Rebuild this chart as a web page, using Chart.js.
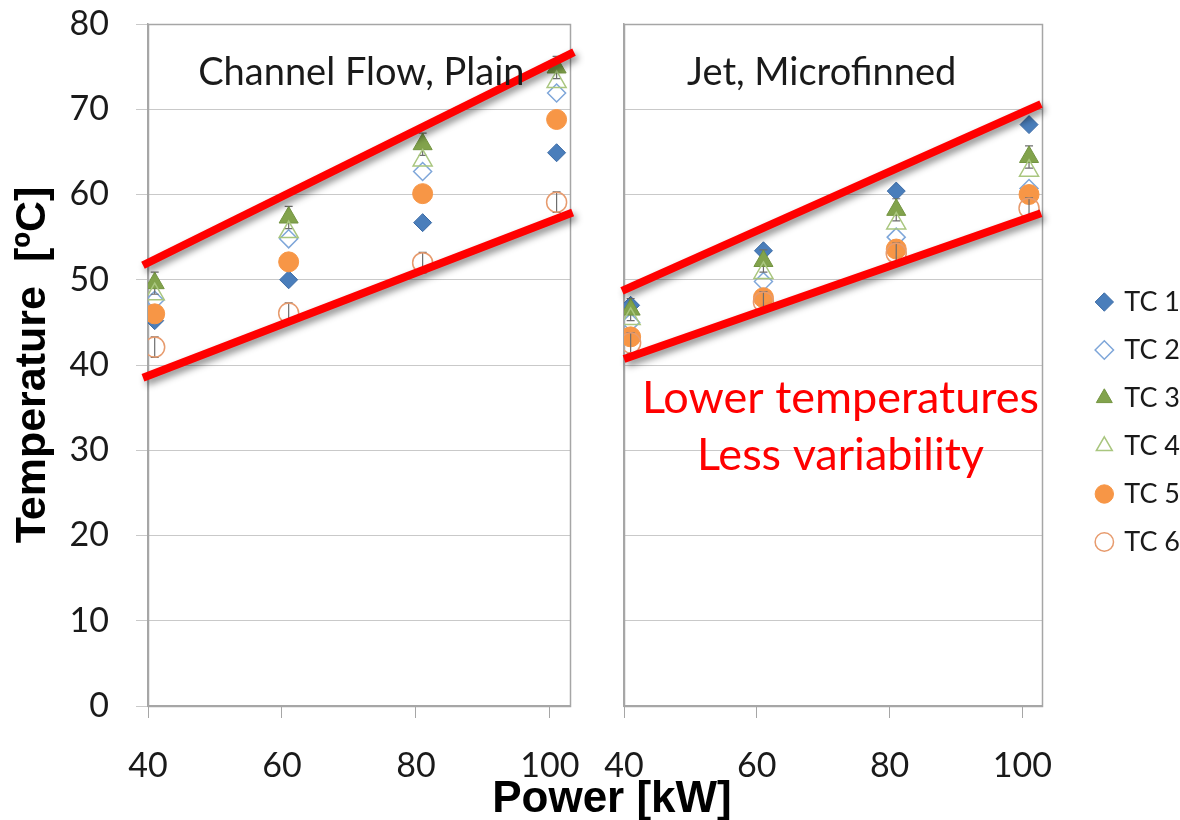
<!DOCTYPE html>
<html>
<head>
<meta charset="utf-8">
<script src="https://cdn.jsdelivr.net/npm/chart.js@4.4.1/dist/chart.umd.min.js"></script>
<style>
html,body{margin:0;padding:0;background:#fff;overflow:hidden;width:1180px;height:820px;}
#wrapL{position:absolute;left:0;top:0;width:585px;height:820px;}
#wrapR{position:absolute;left:458px;top:0;width:732px;height:820px;}
#xtitle{position:absolute;left:412px;top:772px;width:400px;text-align:center;line-height:44px;
  font:bold 44px "Liberation Sans",Arial,sans-serif;color:#000;}
</style>
</head>
<body>
<div id="wrapL"><canvas id="cL"></canvas></div>
<div id="wrapR"><canvas id="cR"></canvas></div>
<div id="xtitle">Power [kW]</div>
<script>
// ---------- data ----------
const powerKW = [41, 61, 81, 101];
const seriesNames = ['TC 1', 'TC 2', 'TC 3', 'TC 4', 'TC 5', 'TC 6'];

// Channel Flow, Plain
const plainTC1 = [45.2, 50.0, 56.7, 64.9];
const plainTC2 = [47.6, 54.8, 62.7, 71.9];
const plainTC3 = [49.6, 57.3, 65.9, 74.9];
const plainTC4 = [48.3, 55.6, 64.0, 73.2];
const plainTC5 = [46.0, 52.1, 60.1, 68.8];
const plainTC6 = [42.1, 46.1, 52.0, 59.1];
const plainErrTC3 = [1.3, 1.3, 1.3, 1.3];
const plainErrTC6 = [1.2, 1.2, 1.2, 1.2];

// Jet, Microfinned
const jetTC1 = [47.0, 53.4, 60.4, 68.2];
const jetTC2 = [45.0, 49.8, 55.0, 60.7];
const jetTC3 = [46.5, 52.2, 58.2, 64.4];
const jetTC4 = [45.4, 50.8, 56.6, 62.8];
const jetTC5 = [43.3, 47.9, 53.6, 60.0];
const jetTC6 = [42.6, 47.4, 53.1, 58.4];
const jetErrTC3 = [1.3, 1.3, 1.3, 1.3];
const jetErrTC6 = [1.2, 1.2, 1.2, 1.2];

// red band annotation lines (data units)
const plainUpperX = [39.25, 103.6], plainUpperY = [51.7, 76.7];
const plainLowerX = [39.25, 103.4], plainLowerY = [38.5, 57.9];
const jetUpperX = [39.7, 102.8], jetUpperY = [48.7, 70.6];
const jetLowerX = [40.0, 102.8], jetLowerY = [40.7, 57.8];

// axis ticks
const xTicks = [40, 60, 80, 100];
const xMin = 40, xMax = 103;
const yMin = 0, yMax = 80, yStep = 10;

// annotation texts
const plainLabel = 'Channel Flow, Plain';
const jetLabel = 'Jet, Microfinned';
const noteLine1 = 'Lower temperatures';
const noteLine2 = 'Less variability';
const yTitle = 'Temperature  [ºC]';

// ---------- styles ----------
const styles = [
  {pointStyle:'rectRot', r:9,  bg:'#4a7ebb', bc:'#3d6ca6', bw:1},
  {pointStyle:'rectRot', r:9,  bg:'rgba(0,0,0,0)', bc:'#7ea6d9', bw:1.5},
  {pointStyle:'triangle', r:11, bg:'#82a34c', bc:'#739441', bw:1},
  {pointStyle:'triangle', r:11, bg:'rgba(0,0,0,0)', bc:'#a9c67f', bw:1.5},
  {pointStyle:'circle', r:10, bg:'#f79646', bc:'#f79646', bw:1},
  {pointStyle:'circle', r:10, bg:'rgba(0,0,0,0)', bc:'#e79b6e', bw:1.5}
];
const GRID = '#c9c9c9', AXIS = '#a6a6a6', TXT = '#1a1a1a';

function pts(xs, ys){ return xs.map((x,i)=>({x:x, y:ys[i]})); }

function buildDatasets(series, errs, bands){
  const ds = [];
  bands.forEach(b => ds.push({
    label:'band', isBand:true, data:pts(b[0], b[1]), showLine:true,
    borderColor:'#ff0000', borderWidth:8, pointRadius:0, clip:false, order:0, borderCapStyle:'butt'
  }));
  series.forEach((vals, i) => {
    const s = styles[i];
    ds.push({
      label:seriesNames[i], data:pts(powerKW, vals), showLine:false,
      pointStyle:s.pointStyle, pointRadius:s.r, backgroundColor:s.bg, borderColor:s.bc,
      borderWidth:s.bw, order:6 - i, errorBars: errs[i] || null
    });
  });
  return ds;
}

// ---------- plugins ----------
const bandShadow = {
  id:'bandShadow',
  beforeDatasetDraw(chart, args){
    if (chart.data.datasets[args.index].isBand){
      const c = chart.ctx; c.save();
      c.shadowColor='rgba(0,0,0,0.45)'; c.shadowBlur=7; c.shadowOffsetX=3; c.shadowOffsetY=4;
    }
  },
  afterDatasetDraw(chart, args){
    if (chart.data.datasets[args.index].isBand) chart.ctx.restore();
  }
};
const errBars = {
  id:'errBars',
  beforeDatasetDraw(chart, args){
    const ds = chart.data.datasets[args.index];
    if (!ds.errorBars) return;
    const ctx = chart.ctx, ys = chart.scales.y;
    ctx.save(); ctx.strokeStyle = '#6e6e6e'; ctx.lineWidth = 1.2;
    args.meta.data.forEach((p, j) => {
      const v = ds.data[j].y, e = ds.errorBars[j];
      const t = ys.getPixelForValue(v + e), b = ys.getPixelForValue(v - e);
      ctx.beginPath();
      ctx.moveTo(p.x, t); ctx.lineTo(p.x, b);
      ctx.moveTo(p.x - 4, t); ctx.lineTo(p.x + 4, t);
      ctx.moveTo(p.x - 4, b); ctx.lineTo(p.x + 4, b);
      ctx.stroke();
    });
    ctx.restore();
  }
};
const frame = {
  id:'frame',
  beforeDatasetsDraw(chart){
    const a = chart.chartArea, c = chart.ctx;
    c.save(); c.strokeStyle = AXIS; c.lineWidth = 1.5;
    c.strokeRect(Math.round(a.left)+0.5, Math.round(a.top)+0.5, Math.round(a.right-a.left), Math.round(a.bottom-a.top));
    c.restore();
  }
};
const panelText = {
  id:'panelText',
  afterDatasetsDraw(chart, args, opts){
    const c = chart.ctx, xs = chart.scales.x, ys = chart.scales.y;
    (opts.items || []).forEach(it => {
      c.save();
      c.font = it.font; c.fillStyle = it.color; c.textAlign = it.align; c.textBaseline = 'middle';
      c.fillText(it.text, xs.getPixelForValue(it.x), ys.getPixelForValue(it.y));
      c.restore();
    });
  }
};

function xScale(){
  return {
    type:'linear', min:xMin, max:xMax,
    afterBuildTicks: s => { s.ticks = xTicks.map(v => ({value:v})); },
    afterFit: s => { s.height = 114; s.paddingLeft = 0; s.paddingRight = 0; },
    ticks:{autoSkip:false, maxRotation:0, padding:28, color:TXT,
           font:{family:'Lato', size:34}},
    grid:{drawOnChartArea:false, tickLength:12, color:AXIS},
    border:{color:AXIS, width:1.5}
  };
}

// ---------- left chart ----------
new Chart(document.getElementById('cL'), {
  type:'scatter',
  data:{datasets: buildDatasets(
    [plainTC1, plainTC2, plainTC3, plainTC4, plainTC5, plainTC6],
    [null, null, plainErrTC3, null, null, plainErrTC6],
    [[plainUpperX, plainUpperY], [plainLowerX, plainLowerY]])},
  options:{
    responsive:true, maintainAspectRatio:false, animation:false, events:[],
    layout:{padding:{top:24, right:15, left:0, bottom:0}},
    scales:{
      x: xScale(),
      y:{
        min:yMin, max:yMax,
        afterFit: s => { s.width = 148; s.paddingTop = 0; s.paddingBottom = 0; },
        ticks:{stepSize:yStep, padding:27, color:TXT, font:{family:'Lato', size:34}},
        grid:{color:GRID, tickLength:12},
        border:{color:AXIS, width:1.5},
        title:{display:true, text:yTitle, color:'#000', padding:{top:12, bottom:0},
               font:{family:'Liberation Sans', size:43, weight:'bold', lineHeight:1}}
      }
    },
    plugins:{
      legend:{display:false}, tooltip:{enabled:false},
      panelText:{items:[
        {text:plainLabel, x:47.5, y:74.3, align:'left', color:TXT, font:'38px Lato'}
      ]}
    }
  },
  plugins:[bandShadow, errBars, frame, panelText]
});

// ---------- right chart ----------
new Chart(document.getElementById('cR'), {
  type:'scatter',
  data:{datasets: buildDatasets(
    [jetTC1, jetTC2, jetTC3, jetTC4, jetTC5, jetTC6],
    [null, null, jetErrTC3, null, null, jetErrTC6],
    [[jetUpperX, jetUpperY], [jetLowerX, jetLowerY]])},
  options:{
    responsive:true, maintainAspectRatio:false, animation:false, events:[],
    layout:{padding:{top:24, right:0, left:0, bottom:0}},
    scales:{
      x: xScale(),
      y:{
        min:yMin, max:yMax,
        afterFit: s => { s.width = 166; s.paddingTop = 0; s.paddingBottom = 0; },
        ticks:{display:false, stepSize:yStep},
        grid:{color:GRID, tickLength:0},
        border:{color:AXIS, width:1.5}
      },
      ySpacer:{
        position:'right', display:true,
        afterFit: s => { s.width = 34.5; s.paddingTop = 0; s.paddingBottom = 0; },
        ticks:{display:false}, grid:{display:false}, border:{display:false}
      }
    },
    plugins:{
      tooltip:{enabled:false},
      legend:{
        display:true, position:'right', align:'center',
        labels:{
          usePointStyle:true, boxWidth:13, boxHeight:13, padding:21, color:TXT,
          font:{family:'Lato', size:27},
          filter: item => item.text !== 'band',
          sort: (a, b) => a.datasetIndex - b.datasetIndex
        }
      },
      panelText:{items:[
        {text:jetLabel, x:49.5, y:74.3, align:'left', color:TXT, font:'38px Lato'},
        {text:noteLine1, x:72.6, y:36.1, align:'center', color:'#ff0000', font:'45px Lato'},
        {text:noteLine2, x:72.6, y:29.4, align:'center', color:'#ff0000', font:'45px Lato'}
      ]}
    }
  },
  plugins:[bandShadow, errBars, frame, panelText]
});
</script>
</body>
</html>
